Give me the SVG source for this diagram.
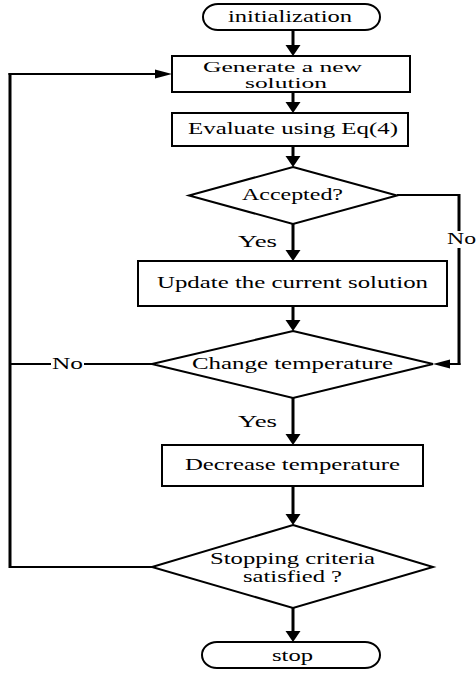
<svg xmlns="http://www.w3.org/2000/svg" width="476" height="673" viewBox="0 0 476 673">
<style>
.shape{fill:#fff;stroke:#000;stroke-width:2}
.v{stroke:#000;stroke-width:3;fill:none}
.h{stroke:#000;stroke-width:2;fill:none}
.head{fill:#000;stroke:none}
text{font-family:"Liberation Serif","Times New Roman",serif;font-size:16px;fill:#000}
.sm{font-size:14.5px}
</style>
<rect width="476" height="673" fill="#fff"/>
<g id="connectors">
  <line class="v" x1="293" y1="30" x2="293" y2="46"/>
  <polygon class="head" points="285.5,45 300.5,45 293,56"/>
  <line class="v" x1="293" y1="92" x2="293" y2="103"/>
  <polygon class="head" points="285.5,102 300.5,102 293,113"/>
  <line class="v" x1="293" y1="146" x2="293" y2="157"/>
  <polygon class="head" points="285.5,156 300.5,156 293,167"/>
  <line class="v" x1="293" y1="224" x2="293" y2="251"/>
  <polygon class="head" points="285.5,250 300.5,250 293,261"/>
  <line class="v" x1="293" y1="306" x2="293" y2="321"/>
  <polygon class="head" points="285.5,320 300.5,320 293,331"/>
  <line class="v" x1="293" y1="398" x2="293" y2="435"/>
  <polygon class="head" points="285.5,434 300.5,434 293,445"/>
  <line class="v" x1="293" y1="486" x2="293" y2="515"/>
  <polygon class="head" points="285.5,514 300.5,514 293,525"/>
  <line class="v" x1="293" y1="608" x2="293" y2="632"/>
  <polygon class="head" points="285.5,631 300.5,631 293,642"/>
  <polyline class="h" points="397,195 459,195"/>
  <line class="v" x1="459" y1="194" x2="459" y2="231"/>
  <line class="v" x1="459" y1="248" x2="459" y2="365"/>
  <line class="h" x1="460.5" y1="364" x2="448" y2="364"/>
  <polygon class="head" points="450,359.5 450,368.5 433,364"/>
  <line class="h" x1="152" y1="364" x2="84" y2="364"/>
  <line class="h" x1="51" y1="364" x2="10" y2="364"/>
  <polyline class="h" points="152,567 10,567"/>
  <line class="v" x1="10" y1="568" x2="10" y2="73"/>
  <line class="h" x1="8.5" y1="74" x2="157" y2="74"/>
  <polygon class="head" points="155,69.5 155,78.5 172,74"/>
  <text x="238" y="247" textLength="39" lengthAdjust="spacingAndGlyphs">Yes</text>
  <text x="238" y="427" textLength="39" lengthAdjust="spacingAndGlyphs">Yes</text>
  <text x="447" y="244" textLength="29" lengthAdjust="spacingAndGlyphs">No</text>
  <text x="52" y="369" textLength="31" lengthAdjust="spacingAndGlyphs">No</text>
</g>
<g id="init">
  <rect class="shape" x="203" y="4" width="177" height="26" rx="15" ry="13"/>
  <text x="228" y="22" textLength="124" lengthAdjust="spacingAndGlyphs">initialization</text>
</g>
<g id="generate">
  <rect class="shape" x="172" y="56" width="238" height="36"/>
  <text class="sm" x="203" y="72" textLength="159" lengthAdjust="spacingAndGlyphs">Generate a new</text>
  <text class="sm" x="245" y="88" textLength="82" lengthAdjust="spacingAndGlyphs">solution</text>
</g>
<g id="evaluate">
  <rect class="shape" x="172" y="113" width="236" height="33"/>
  <text x="188" y="134" textLength="210" lengthAdjust="spacingAndGlyphs">Evaluate using Eq(4)</text>
</g>
<g id="accepted">
  <polygon class="shape" points="293,167 397,195.5 293,224 189,195.5"/>
  <text x="242" y="200" textLength="101" lengthAdjust="spacingAndGlyphs">Accepted?</text>
</g>
<g id="update">
  <rect class="shape" x="138" y="261" width="309" height="45"/>
  <text x="157" y="288" textLength="271" lengthAdjust="spacingAndGlyphs">Update the current solution</text>
</g>
<g id="change">
  <polygon class="shape" points="293,331 433,364 293,398 152,364"/>
  <text x="192" y="369" textLength="201" lengthAdjust="spacingAndGlyphs">Change temperature</text>
</g>
<g id="decrease">
  <rect class="shape" x="162" y="445" width="261" height="41"/>
  <text x="185" y="470" textLength="215" lengthAdjust="spacingAndGlyphs">Decrease temperature</text>
</g>
<g id="stopping">
  <polygon class="shape" points="293,525 433,567 293,608 152,567"/>
  <text x="210" y="564" textLength="165" lengthAdjust="spacingAndGlyphs">Stopping criteria</text>
  <text x="243" y="582" textLength="99" lengthAdjust="spacingAndGlyphs">satisfied ?</text>
</g>
<g id="stop">
  <rect class="shape" x="202" y="642" width="178" height="26" rx="15" ry="13"/>
  <text x="272" y="661" textLength="41" lengthAdjust="spacingAndGlyphs">stop</text>
</g>
</svg>
